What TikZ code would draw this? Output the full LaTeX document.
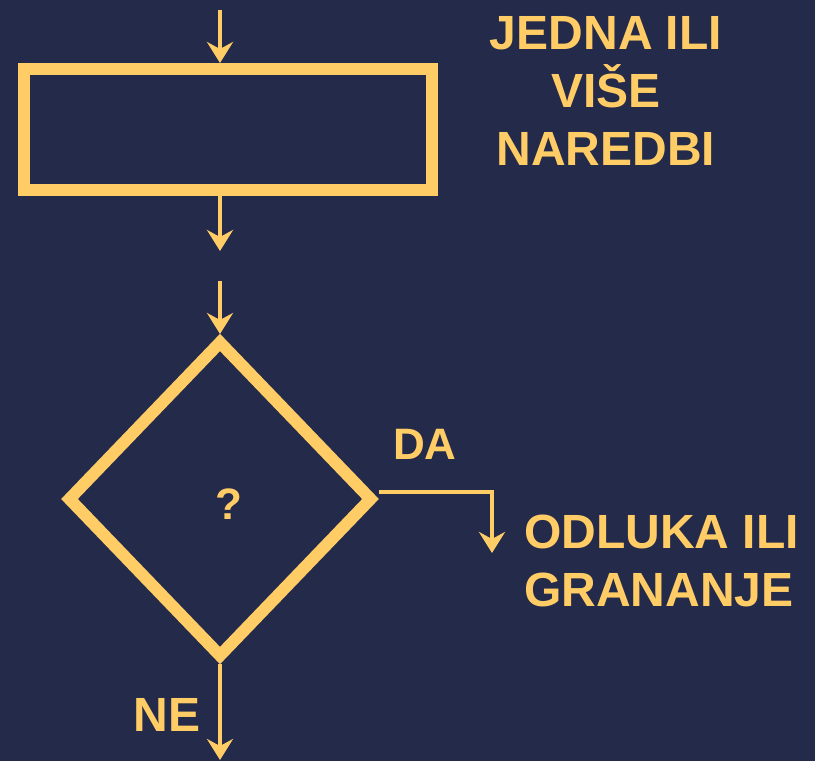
\documentclass[tikz,border=0pt]{standalone}
\usepackage{fontspec}
\setmainfont{Liberation Sans}
\usepackage{tikz}
\usetikzlibrary{arrows.meta,shapes.geometric,positioning}
\definecolor{navy}{RGB}{36,42,74}
\definecolor{gold}{RGB}{255,204,102}

\begin{document}
\begin{tikzpicture}
[x=1pt,y=-1pt,
stmt/.style={draw=gold,line width=12pt,minimum width=408pt,minimum height=121pt,
  inner sep=0pt},
decision/.style={shape=diamond,draw=gold,line width=12pt,
  minimum width=306pt,minimum height=318pt,inner sep=0pt},
flow/.style={draw=gold,line width=4pt,
  -{Stealth[length=21pt,width=26pt,inset=7pt]}},
txt/.style={text=gold,font=\bfseries\fontsize{48}{58}\selectfont,inner sep=0pt},
small/.style={txt,font=\bfseries\fontsize{44}{50}\selectfont}]
\fill [navy] (0,0) rectangle (815,761);

\node (box) [stmt] at (228,129.5) {};
\node (q) [decision] at (220,499) {};

\coordinate (in1) at (220,10);
\coordinate (out1) at (220,251);
\coordinate (in2) at (220,281);
\coordinate (ne) at (220,760);
\coordinate (da) at (492,553);

\draw [flow] (in1) -- (in1 |- box.north);
\draw [flow] (out1 |- box.south) -- (out1);
\draw [flow] (in2) -- (q.north);
\draw [flow] (q.south) -- (ne);
\draw [flow] ([yshift=7pt]q.east) -| (da);

% labels
\node (what) [txt,align=center] at (606,90.5)
  {JEDNA ILI\\VIŠE\\NAREDBI};
\node (kind) [txt,align=left,anchor=west] at (524,561)
  {ODLUKA ILI\\GRANANJE};
\node (yes) [small,anchor=base] at (425,459) {DA};
\node (no) [txt,anchor=base] at (167,731) {NE};
\node (cond) [small,anchor=base] at (229,519) {?};
\end{tikzpicture}
\end{document}
